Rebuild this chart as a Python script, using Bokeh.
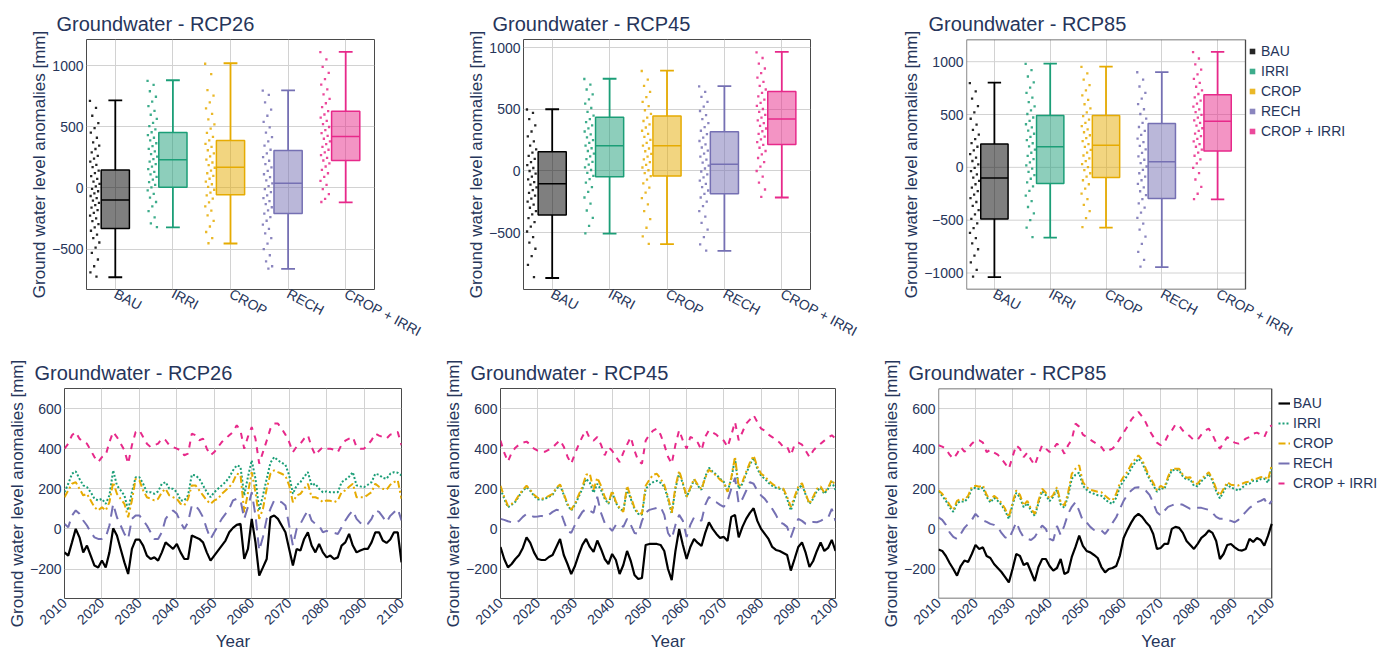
import math
from bokeh.plotting import figure
from bokeh.layouts import column, row
from bokeh.models import Range1d, FixedTicker, CustomJSTickFormatter, Legend, LegendItem
from bokeh.embed import file_html
from bokeh.resources import INLINE

FONT = "Liberation Sans"
TXT = "#26355a"
GRID = "#d2d2d2"
FRAME_COL = "#4a4a4a"

scenarios = ["BAU", "IRRI", "CROP", "RECH", "CROP + IRRI"]
colors = ["#000000", "#1b9e77", "#e6ab02", "#7570b3", "#e7298a"]

# ---------------- box plot statistics (per scenario) ----------------
box26_low = [-730, -323, -454, -661, -118]
box26_q1 = [-331, 5, -55, -208, 224]
box26_med = [-98, 230, 169, 38, 421]
box26_q3 = [147, 453, 388, 306, 626]
box26_high = [715, 880, 1019, 798, 1112]

box45_low = [-867, -508, -592, -647, -215]
box45_q1 = [-356, -46, -41, -185, 215]
box45_med = [-103, 205, 204, 54, 421]
box45_q3 = [155, 435, 446, 318, 644]
box45_high = [500, 747, 813, 688, 965]

box85_low = [-1039, -665, -570, -944, -304]
box85_q1 = [-488, -152, -95, -294, 155]
box85_med = [-101, 196, 209, 54, 437]
box85_q3 = [222, 491, 491, 415, 687]
box85_high = [801, 982, 953, 902, 1092]

# ---------------- individual points (per scenario) ----------------
pts26_bau = [712, 655, 590, 530, 488, 452, 410, 372, 345, 318, 290, 262, 240, 215, 188, 170, 142, 121, 96, 74, 52, 33, 12, -8, -27, -45, -66, -84, -103, -122, -140, -161, -182, -204, -226, -248, -271, -296, -322, -350, -381, -410, -446, -488, -530, -585, -640, -690, -725]
pts26_irri = [875, 842, 790, 745, 705, 668, 630, 598, 565, 532, 505, 478, 455, 432, 410, 388, 365, 342, 320, 298, 277, 256, 236, 215, 195, 174, 153, 132, 111, 90, 68, 47, 25, 4, -20, -48, -80, -115, -150, -190, -240, -290, -320]
pts26_crop = [1015, 930, 800, 755, 700, 650, 605, 560, 520, 485, 450, 418, 388, 360, 335, 308, 283, 258, 232, 208, 186, 165, 142, 120, 98, 75, 52, 30, 8, -15, -38, -60, -88, -118, -150, -185, -225, -270, -315, -360, -410, -452]
pts26_rech = [795, 760, 700, 640, 590, 540, 495, 452, 415, 380, 345, 312, 282, 252, 222, 195, 168, 140, 112, 88, 62, 38, 14, -10, -35, -60, -84, -108, -132, -158, -184, -210, -238, -268, -300, -335, -372, -410, -455, -500, -550, -600, -640, -660]
pts26_ci = [1110, 1050, 990, 940, 890, 845, 805, 765, 728, 692, 660, 628, 600, 575, 548, 522, 498, 472, 448, 425, 402, 380, 358, 335, 312, 290, 268, 246, 224, 200, 175, 148, 120, 90, 58, 25, -10, -50, -90, -115]

pts45_bau = [498, 470, 420, 370, 320, 280, 240, 205, 175, 148, 122, 98, 72, 48, 24, 0, -22, -45, -68, -90, -110, -132, -155, -178, -200, -224, -248, -272, -298, -325, -352, -382, -415, -450, -490, -535, -580, -630, -690, -760, -860]
pts45_irri = [745, 700, 660, 620, 580, 545, 510, 478, 448, 420, 395, 370, 345, 320, 296, 272, 250, 228, 206, 184, 162, 140, 118, 96, 74, 52, 30, 8, -15, -40, -66, -95, -130, -170, -215, -265, -320, -380, -445, -505]
pts45_crop = [810, 740, 690, 640, 598, 560, 525, 492, 462, 432, 405, 378, 352, 326, 300, 276, 252, 228, 205, 182, 160, 138, 116, 94, 72, 50, 28, 6, -18, -42, -70, -100, -135, -175, -220, -270, -325, -390, -460, -530, -590]
pts45_rech = [685, 640, 600, 560, 522, 486, 452, 420, 388, 356, 326, 298, 270, 243, 216, 190, 165, 140, 116, 92, 68, 44, 20, -4, -28, -52, -78, -104, -130, -158, -186, -215, -248, -285, -325, -370, -420, -475, -535, -595, -645]
pts45_ci = [960, 915, 870, 830, 792, 756, 722, 690, 660, 632, 605, 578, 552, 527, 502, 478, 455, 432, 410, 388, 366, 344, 322, 300, 278, 256, 234, 212, 188, 162, 135, 105, 72, 36, 0, -45, -95, -150, -210]

pts85_bau = [798, 720, 650, 580, 520, 460, 405, 355, 310, 268, 230, 195, 160, 125, 92, 60, 28, -4, -35, -66, -97, -128, -160, -192, -225, -258, -292, -328, -365, -405, -445, -488, -530, -575, -620, -670, -720, -775, -835, -900, -970, -1035]
pts85_irri = [980, 920, 860, 805, 755, 705, 660, 618, 578, 540, 505, 472, 440, 408, 378, 348, 318, 288, 258, 228, 198, 168, 138, 108, 78, 48, 18, -12, -42, -74, -108, -142, -180, -222, -268, -320, -375, -435, -500, -570, -660]
pts85_crop = [950, 890, 830, 778, 728, 682, 638, 597, 558, 520, 485, 452, 420, 390, 360, 332, 304, 276, 248, 220, 193, 166, 139, 112, 85, 58, 30, 2, -26, -56, -88, -122, -160, -202, -248, -300, -355, -415, -480, -565]
pts85_rech = [900, 830, 765, 705, 650, 598, 550, 505, 462, 420, 382, 345, 308, 272, 238, 204, 170, 137, 104, 72, 40, 8, -24, -56, -88, -122, -156, -190, -226, -262, -300, -340, -382, -428, -478, -532, -590, -655, -725, -800, -875, -940]
pts85_ci = [1090, 1030, 975, 925, 880, 838, 800, 763, 728, 694, 662, 632, 603, 575, 548, 522, 496, 470, 445, 420, 395, 370, 345, 320, 295, 270, 245, 220, 195, 168, 140, 110, 76, 38, -5, -55, -115, -185, -250, -300]

# ---------------- annual time series ----------------
years = list(range(2010, 2101))

gw26_bau = [-117, -133, -67, 0, -42, -117, -83, -133, -183, -192,
            -158, -192, -117, 3, -33, -100, -167, -225, -100, -53,
            -53, -83, -133, -150, -142, -158, -117, -67, -83, -100,
            -75, -117, -150, -150, -33, -42, -50, -67, -117, -158,
            -133, -108, -83, -58, -17, 5, 20, 25, -150, -100,
            50, -67, -233, -192, -150, 58, 67, 50, 17, -17,
            -100, -183, -100, -108, -50, -17, -83, -117, -75, -117,
            -142, -133, -150, -142, -83, -67, -25, -83, -117, -108,
            -100, -100, -67, -17, -17, -58, -70, -53, -17, -17, -167]
gw26_irri = [183, 225, 275, 287, 250, 217, 208, 183, 150, 142,
             150, 125, 167, 292, 217, 192, 167, 92, 183, 258,
             258, 225, 183, 183, 175, 187, 225, 233, 200, 200,
             183, 142, 142, 167, 270, 267, 250, 217, 183, 158,
             183, 200, 217, 233, 258, 292, 317, 310, 167, 260,
             342, 250, 92, 167, 250, 330, 358, 342, 330, 320,
             267, 175, 217, 233, 260, 283, 217, 225, 200, 183,
             187, 183, 183, 183, 233, 245, 260, 283, 217, 212,
             208, 220, 233, 275, 270, 255, 250, 275, 283, 280, 267]
gw26_crop = [158, 192, 225, 233, 200, 167, 175, 142, 108, 92,
             108, 92, 133, 233, 175, 150, 125, 58, 142, 250,
             242, 192, 158, 150, 142, 150, 183, 200, 167, 158,
             150, 125, 117, 150, 217, 217, 192, 167, 142, 125,
             142, 150, 175, 192, 208, 233, 275, 270, 83, 180,
             283, 183, 50, 100, 200, 275, 292, 283, 275, 265,
             217, 133, 167, 175, 200, 225, 158, 158, 150, 133,
             142, 140, 133, 142, 183, 192, 210, 225, 158, 158,
             158, 170, 183, 225, 210, 200, 195, 220, 233, 242, 150]
gw26_rech = [25, 8, 67, 92, 75, 42, 17, -17, -42, -50,
             -50, -42, 17, 125, 58, 17, -25, -50, 50, 67,
             67, 42, 17, -17, -50, -50, -17, 50, 75, 92,
             75, 33, 0, 33, 117, 117, 92, 58, 0, -50,
             -17, 17, 50, 75, 100, 142, 150, 145, 50, 110,
             183, 67, -108, -40, 50, 100, 142, 138, 133, 117,
             17, -83, 0, 25, 60, 92, 42, 25, 17, -17,
             -10, -17, -20, -25, 8, 42, 70, 92, 50, 30,
             17, 25, 50, 92, 85, 60, 33, 65, 83, 100, 42]
gw26_ci = [400, 425, 467, 483, 450, 433, 425, 392, 358, 333,
           358, 367, 433, 483, 458, 425, 392, 325, 417, 483,
           492, 458, 425, 408, 417, 425, 450, 442, 417, 408,
           400, 392, 367, 375, 475, 467, 442, 450, 400, 367,
           383, 408, 433, 450, 467, 483, 517, 490, 400, 460,
           508, 450, 325, 383, 440, 500, 525, 525, 500, 470,
           433, 383, 410, 425, 450, 467, 408, 367, 390, 408,
           400, 400, 395, 383, 420, 440, 450, 458, 408, 400,
           400, 420, 442, 475, 465, 458, 450, 470, 475, 483, 417]

gw45_bau = [-90, -150, -192, -175, -150, -130, -95, -42, -70, -117,
            -150, -155, -155, -140, -130, -90, -50, -130, -175, -225,
            -185, -130, -80, -50, -90, -115, -58, -100, -150, -175,
            -125, -155, -225, -180, -110, -160, -230, -250, -245, -80,
            -75, -75, -75, -80, -110, -200, -255, -110, 0, -80,
            -150, -90, -50, -70, -85, -20, 33, 0, -25, -45,
            -40, -60, 60, 70, -42, 10, 50, 80, 103, 40,
            0, -25, -50, -90, -105, -110, -120, -130, -208, -150,
            -90, -67, -120, -190, -160, -110, -67, -110, -95, -55, -110]
gw45_irri = [200, 150, 108, 120, 135, 165, 190, 208, 190, 165,
             148, 145, 150, 160, 170, 200, 217, 170, 120, 92,
             120, 160, 200, 250, 230, 180, 225, 195, 150, 125,
             183, 130, 100, 90, 200, 150, 100, 75, 70, 200,
             220, 233, 240, 230, 210, 150, 75, 200, 280, 225,
             160, 200, 245, 215, 195, 260, 305, 285, 270, 250,
             235, 185, 250, 350, 200, 225, 275, 320, 355, 300,
             265, 250, 230, 215, 205, 200, 195, 150, 92, 150,
             200, 220, 170, 125, 150, 190, 205, 175, 200, 235, 195]
gw45_crop = [215, 160, 115, 125, 140, 170, 195, 215, 195, 170,
             155, 150, 155, 165, 175, 205, 222, 175, 125, 95,
             125, 170, 210, 270, 275, 195, 255, 215, 160, 130,
             190, 135, 105, 85, 215, 160, 105, 80, 75, 215,
             245, 270, 275, 250, 220, 160, 80, 210, 290, 230,
             160, 205, 250, 220, 198, 255, 295, 280, 265, 245,
             230, 185, 255, 360, 210, 235, 285, 330, 365, 310,
             275, 262, 240, 225, 212, 205, 200, 160, 110, 160,
             210, 228, 175, 125, 160, 200, 212, 180, 205, 245, 215]
gw45_rech = [50, 45, 38, 33, 30, 40, 60, 75, 68, 60,
             62, 65, 60, 70, 85, 95, 92, 40, -10, -20,
             20, 55, 85, 100, 90, 80, 160, 80, 30, 10,
             -10, 20, 25, 10, 50, 20, -20, -25, 40, 80,
             95, 100, 105, 110, 70, -20, -50, 20, 70, 40,
             -40, 20, 58, 50, 40, 120, 160, 140, 133, 120,
             110, 140, 200, 255, 125, 150, 190, 233, 225, 190,
             167, 150, 125, 100, 70, 33, 25, 10, -42, 10,
             50, 40, 25, 33, 35, 33, 40, 50, 55, 100, 40]
gw45_ci = [440, 380, 335, 380, 405, 420, 430, 435, 420, 400,
           390, 385, 385, 395, 405, 425, 442, 410, 360, 325,
           375, 420, 460, 492, 450, 440, 458, 420, 367, 408,
           390, 360, 333, 380, 420, 458, 390, 340, 325, 440,
           470, 490, 500, 470, 420, 360, 325, 420, 492, 440,
           400, 458, 450, 430, 392, 460, 492, 480, 470, 450,
           440, 408, 467, 533, 442, 483, 525, 545, 567, 533,
           500, 490, 470, 458, 445, 430, 408, 410, 367, 420,
           430, 420, 390, 358, 390, 410, 425, 440, 455, 467, 450]

gw85_bau = [-103, -110, -135, -170, -200, -233, -185, -158, -165, -125,
            -80, -100, -92, -135, -145, -175, -195, -215, -240, -267,
            -200, -125, -135, -180, -170, -215, -260, -190, -150, -150,
            -185, -208, -195, -150, -225, -215, -140, -90, -33, -85,
            -110, -117, -130, -145, -190, -217, -200, -195, -185, -133,
            -45, -5, 30, 60, 75, 60, 35, 15, -25, -100,
            -95, -75, -75, 0, 10, 5, -20, -60, -80, -100,
            -75, -45, -30, -8, -20, -60, -150, -125, -80, -75,
            -92, -105, -108, -100, -50, -65, -45, -55, -83, -35, 25]
gw85_irri = [188, 165, 140, 108, 85, 128, 138, 135, 155, 200,
             205, 198, 205, 160, 132, 155, 140, 120, 90, 50,
             120, 180, 158, 108, 128, 90, 65, 128, 188, 168,
             138, 160, 195, 122, 105, 165, 250, 270, 280, 215,
             195, 182, 175, 168, 165, 148, 132, 125, 155, 210,
             240, 265, 300, 328, 350, 330, 288, 248, 218, 185,
             205, 198, 250, 292, 295, 292, 262, 245, 248, 215,
             212, 238, 255, 275, 240, 188, 152, 185, 222, 205,
             200, 190, 205, 222, 225, 240, 238, 248, 250, 230, 310]
gw85_crop = [192, 175, 150, 120, 95, 140, 150, 145, 165, 210,
             215, 210, 217, 170, 142, 165, 150, 130, 100, 58,
             130, 192, 170, 117, 140, 100, 75, 140, 200, 180,
             150, 170, 208, 133, 117, 180, 275, 300, 317, 233,
             208, 195, 190, 185, 183, 165, 150, 142, 175, 230,
             260, 285, 320, 345, 367, 345, 300, 260, 230, 192,
             215, 205, 260, 300, 300, 300, 270, 255, 258, 225,
             225, 250, 265, 283, 250, 200, 167, 200, 233, 220,
             217, 217, 225, 233, 235, 250, 250, 258, 260, 245, 317]
gw85_rech = [58, 45, 20, -17, -40, -50, -25, 5, 25, 45,
             75, 55, 42, 35, 25, 20, 10, -20, -42, -50,
             -10, 33, -10, -42, -50, -55, -40, -10, 17, 0,
             -50, -58, 15, -30, 17, 75, 110, 133, 90, 40,
             33, 10, -5, -10, -8, -25, 0, 30, 58, 100,
             140, 170, 190, 205, 208, 200, 190, 170, 130, 83,
             67, 90, 110, 117, 125, 125, 120, 110, 100, 100,
             105, 105, 100, 95, 80, 60, 50, 50, 45, 40,
             33, 45, 65, 85, 105, 117, 133, 140, 150, 115, 140]
gw85_ci = [417, 410, 400, 370, 350, 375, 408, 385, 400, 425,
           442, 442, 430, 383, 395, 380, 370, 350, 325, 300,
           360, 417, 400, 358, 380, 345, 317, 370, 417, 400,
           383, 400, 425, 410, 375, 417, 445, 525, 510, 470,
           458, 445, 433, 420, 408, 383, 392, 400, 420, 450,
           480, 510, 542, 565, 583, 560, 530, 490, 460, 430,
           417, 430, 467, 490, 520, 515, 490, 475, 460, 442,
           445, 470, 490, 500, 470, 430, 400, 430, 458, 440,
           430, 425, 435, 450, 458, 475, 480, 470, 458, 500, 517]

for s in [gw26_bau, gw26_irri, gw26_crop, gw26_rech, gw26_ci,
          gw45_bau, gw45_irri, gw45_crop, gw45_rech, gw45_ci,
          gw85_bau, gw85_irri, gw85_crop, gw85_rech, gw85_ci]:
    assert len(s) == len(years), len(s)

# ---------------- styling helpers ----------------
NEG_FMT = "return (tick < 0 ? '\\u2212' + Math.abs(tick) : '' + tick);"
YLABEL = "Ground water level anomalies [mm]"
dashes = ["solid", "2 2", "7 3 2 3", "11 7", "6 6"]
LEG_H = 2 * 3 + 5 * 18 + 4 * 2


def style_common(p, title, title_offset):
    p.title.text = title
    p.title.text_font = FONT
    p.title.text_font_size = "20px"
    p.title.text_font_style = "normal"
    p.title.text_color = TXT
    p.title.offset = title_offset
    p.title.standoff = 9
    p.outline_line_color = FRAME_COL
    p.outline_line_width = 1
    p.background_fill_color = "white"
    p.border_fill_color = "white"
    for ax in (p.xaxis[0], p.yaxis[0]):
        ax.axis_line_color = None
        ax.major_tick_line_color = None
        ax.minor_tick_line_color = None
        ax.major_tick_out = 0
        ax.major_tick_in = 0
        ax.minor_tick_out = 0
        ax.minor_tick_in = 0
        ax.major_label_text_font = FONT
        ax.major_label_text_font_size = "14px"
        ax.major_label_text_color = TXT
        ax.axis_label_text_font = FONT
        ax.axis_label_text_font_size = "17px"
        ax.axis_label_text_font_style = "normal"
        ax.axis_label_text_color = TXT
    p.yaxis.axis_label = YLABEL
    p.yaxis.formatter = CustomJSTickFormatter(code=NEG_FMT)
    p.yaxis.major_label_standoff = 3
    p.yaxis.axis_label_standoff = 0
    p.xgrid.grid_line_color = GRID
    p.ygrid.grid_line_color = GRID


def manual_frame(p, x0, x1, y0, y1, yticks):
    # the plotting area is wider than the drawn frame (room for the legend):
    # draw horizontal grid lines and the frame border by hand
    p.ygrid.grid_line_color = None
    p.outline_line_color = None
    p.segment(x0=[x0] * len(yticks), x1=[x1] * len(yticks), y0=yticks, y1=yticks,
              line_color=GRID, line_width=1)
    p.quad(left=[x0], right=[x1], bottom=[y0], top=[y1], fill_color=None,
           line_color=FRAME_COL, line_width=1.3)


def make_legend(items, gw, loc):
    lg = Legend(items=items, location=loc)
    lg.border_line_color = None
    lg.background_fill_alpha = 0
    lg.label_text_font = FONT
    lg.label_text_font_size = "14px"
    lg.label_text_color = TXT
    lg.glyph_width = gw
    lg.glyph_height = 18
    lg.label_height = 18
    lg.spacing = 2
    lg.padding = 3
    lg.margin = 0
    lg.label_standoff = 4
    return lg


TOP_H = 350
TOP_FRAME = 250
TOP_FW = 279


def box_fig(title, width, bl, br, yr, yticks, lows, q1s, meds, q3s, highs, pts, title_offset, legend=False):
    n = len(scenarios)
    x_end = n
    if legend:
        x_end = n * (width - bl - br) / TOP_FW
    p = figure(width=width, height=TOP_H, x_range=Range1d(0, x_end), y_range=Range1d(*yr),
               output_backend="svg", toolbar_location=None,
               min_border_left=bl, min_border_right=br, min_border_top=39,
               min_border_bottom=TOP_H - 39 - TOP_FRAME)
    style_common(p, title, title_offset)
    centers = [i + 0.5 for i in range(n)]
    p.xaxis.ticker = FixedTicker(ticks=centers)
    p.xaxis.major_label_overrides = {c: s for c, s in zip(centers, scenarios)}
    p.xaxis.major_label_orientation = -0.49
    p.xaxis.major_label_standoff = 3
    p.yaxis.ticker = FixedTicker(ticks=yticks)
    if legend:
        manual_frame(p, 0, n, yr[0], yr[1], yticks)
    legend_items = []
    for i, (name, col) in enumerate(zip(scenarios, colors)):
        cx = centers[i]
        vals = pts[i]
        xs = [cx - 0.44 + 0.17 * ((k * 0.6180339) % 1.0) for k in range(len(vals))]
        r_pts = p.scatter(xs, vals, size=2.3, marker="square", color=col, alpha=0.85, line_width=0)
        p.segment(x0=[cx, cx], y0=[q3s[i], q1s[i]], x1=[cx, cx], y1=[highs[i], lows[i]],
                  line_color=col, line_width=1.8)
        p.segment(x0=[cx - 0.12, cx - 0.12], y0=[highs[i], lows[i]], x1=[cx + 0.12, cx + 0.12],
                  y1=[highs[i], lows[i]], line_color=col, line_width=1.8)
        p.quad(left=[cx - 0.245], right=[cx + 0.245], bottom=[q1s[i]], top=[q3s[i]],
               fill_color=col, fill_alpha=0.5, line_color=col, line_width=1.5)
        p.segment(x0=[cx - 0.245], y0=[meds[i]], x1=[cx + 0.245], y1=[meds[i]],
                  line_color=col, line_width=1.5)
        legend_items.append(LegendItem(label=name, renderers=[r_pts]))
    if legend:
        lg = make_legend(legend_items, 14, (TOP_FW, TOP_FRAME - LEG_H + 3))
        lg.label_standoff = 2
        p.add_layout(lg)
    return p


BOT_H = 305
BOT_TOP = 38
BOT_FRAME = 210
BOT_FW = 337


def line_fig(title, width, bl, br, series, title_offset, legend=False):
    x_end = 2100
    if legend:
        x_end = 2010 + 90 * (width - bl - br) / BOT_FW
    yr = (-347, 700)
    yticks = [-200, 0, 200, 400, 600]
    p = figure(width=width, height=BOT_H, x_range=Range1d(2010, x_end), y_range=Range1d(*yr),
               output_backend="svg", toolbar_location=None,
               min_border_left=bl, min_border_right=br, min_border_top=BOT_TOP,
               min_border_bottom=BOT_H - BOT_TOP - BOT_FRAME)
    style_common(p, title, title_offset)
    p.xaxis.ticker = FixedTicker(ticks=list(range(2010, 2101, 10)))
    p.xaxis.major_label_orientation = 0.75
    p.xaxis.major_label_standoff = 2
    p.xaxis.axis_label = "Year"
    p.xaxis.axis_label_standoff = 0
    p.yaxis.ticker = FixedTicker(ticks=yticks)
    if legend:
        manual_frame(p, 2010, 2100, yr[0], yr[1], yticks)
    items = []
    for name, col, dash, vals in zip(scenarios, colors, dashes, series):
        r = p.line(years, vals, line_color=col, line_width=2.2 if name == "BAU" else 2,
                   line_dash=dash)
        items.append(LegendItem(label=name, renderers=[r]))
    if legend:
        lg = make_legend(items, 12, (BOT_FW + 3, BOT_FRAME - LEG_H))
        lg.label_standoff = 3
        p.add_layout(lg)
    return p


p1 = box_fig("Groundwater - RCP26", 448, 86, 74, (-830, 1213), [-500, 0, 500, 1000],
             box26_low, box26_q1, box26_med, box26_q3, box26_high,
             [pts26_bau, pts26_irri, pts26_crop, pts26_rech, pts26_ci], -30)
p2 = box_fig("Groundwater - RCP45", 447, 75, 85, (-960, 1065), [-500, 0, 500, 1000],
             box45_low, box45_q1, box45_med, box45_q3, box45_high,
             [pts45_bau, pts45_irri, pts45_crop, pts45_rech, pts45_ci], -31)
p3 = box_fig("Groundwater - RCP85", 483, 71, 0, (-1156, 1210), [-1000, -500, 0, 500, 1000],
             box85_low, box85_q1, box85_med, box85_q3, box85_high,
             [pts85_bau, pts85_irri, pts85_crop, pts85_rech, pts85_ci], -38, legend=True)

p4 = line_fig("Groundwater - RCP26", 440, 64, 39,
              [gw26_bau, gw26_irri, gw26_crop, gw26_rech, gw26_ci], -30)
p5 = line_fig("Groundwater - RCP45", 438, 58, 43,
              [gw45_bau, gw45_irri, gw45_crop, gw45_rech, gw45_ci], -30)
p6 = line_fig("Groundwater - RCP85", 500, 55, 0,
              [gw85_bau, gw85_irri, gw85_crop, gw85_rech, gw85_ci], -30, legend=True)

layout = column(row(p1, p2, p3), row(p4, p5, p6))
open("out.html", "w", encoding="utf-8").write(file_html(layout, INLINE))
